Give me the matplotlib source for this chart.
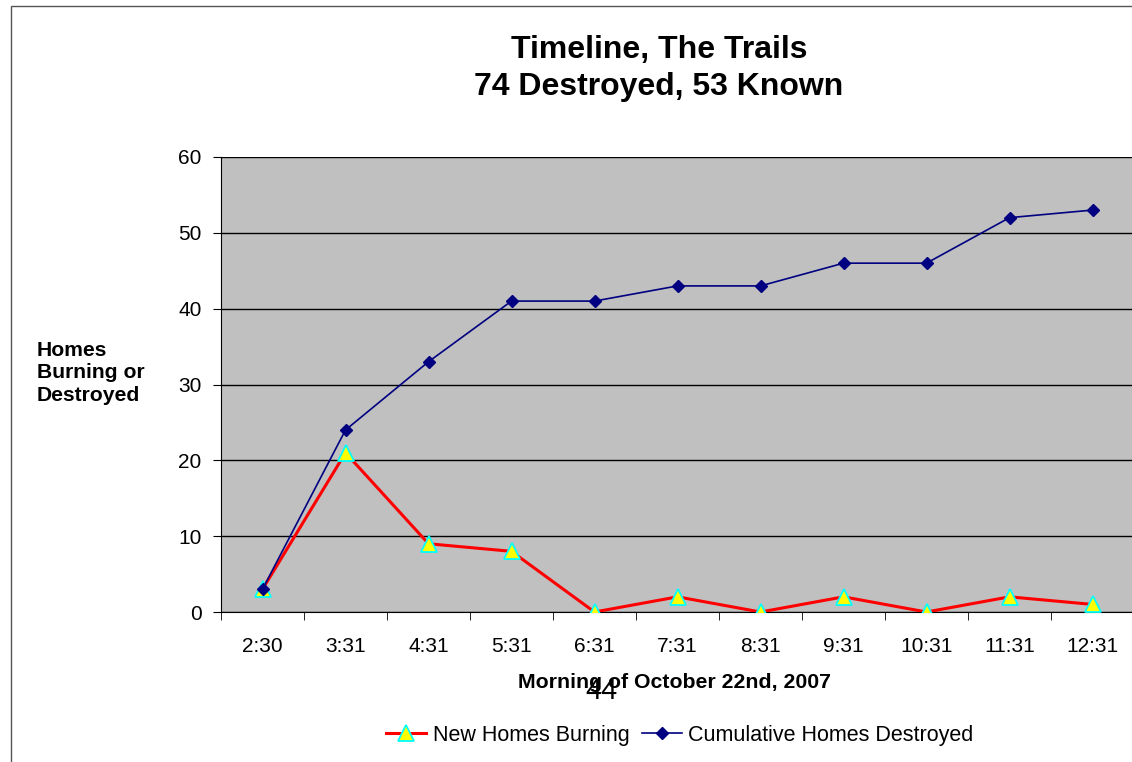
import matplotlib
matplotlib.use("Agg")
import matplotlib.pyplot as plt
import numpy as np
from matplotlib.patches import Rectangle

plt.rcParams['font.family'] = ['Liberation Sans', 'DejaVu Sans']

times = ["2:30", "3:31", "4:31", "5:31", "6:31", "7:31", "8:31", "9:31", "10:31", "11:31", "12:31"]
new_burning = [3, 21, 9, 8, 0, 2, 0, 2, 0, 2, 1]
cumulative = [3, 24, 33, 41, 41, 43, 43, 46, 46, 52, 53]

W, H = 1132, 762
fig = plt.figure(figsize=(W / 100, H / 100), dpi=100)

# outer chart border (right/bottom run off the picture)
fig.patches.append(Rectangle((11 / W, -0.1), 1.2, 1.1 - 6 / H,
                             transform=fig.transFigure, fill=False,
                             edgecolor="#555555", lw=1))

ax = fig.add_axes([221 / W, 1 - 612 / H, (1134 - 221) / W, (612 - 157) / H])
ax.set_facecolor("#c0c0c0")

x = np.arange(len(times))
ax.plot(x, new_burning, color="red", lw=2.2, marker="^", markersize=11,
        markerfacecolor="yellow", markeredgecolor="cyan", markeredgewidth=1.3,
        label="New Homes Burning", zorder=3)
ax.plot(x, cumulative, color="#000080", lw=1.2, marker="D", markersize=6,
        markerfacecolor="#000080", markeredgecolor="#000080",
        label="Cumulative Homes Destroyed", zorder=4)

ax.set_xlim(-0.5, len(times) - 0.5)
ax.set_ylim(0, 60)
ax.set_yticks(range(0, 61, 10))
ax.set_xticks(x)
ax.set_xticklabels(times)
ax.set_xticks(np.arange(-0.5, len(times)), minor=True)
ax.tick_params(axis="x", which="major", length=0, pad=18, labelsize=15)
ax.tick_params(axis="x", which="minor", length=6, color="black", direction="out")
ax.tick_params(axis="y", length=6, direction="out", labelsize=15, pad=8)
ax.yaxis.grid(True, color="black", lw=1)
ax.set_axisbelow(True)
for s in ["top", "right"]:
    ax.spines[s].set_visible(False)
ax.spines["left"].set_color("black")
ax.spines["bottom"].set_color("black")

fig.text(659 / W, 1 - 68.5 / H, "Timeline, The Trails\n74 Destroyed, 53 Known",
         ha="center", va="center", fontsize=23, fontweight="bold", linespacing=1.3)
fig.text(37 / W, 1 - 373 / H, "Homes\nBurning or\nDestroyed", ha="left", va="center",
         fontsize=15.2, fontweight="bold", linespacing=1.25)
fig.text(674 / W, 1 - 683 / H, "Morning of October 22nd, 2007", ha="center", va="center",
         fontsize=15.3, fontweight="bold")
fig.text(601 / W, 1 - 691 / H, "44", ha="center", va="center", fontsize=21)

fig.legend(loc="center", bbox_to_anchor=(680 / W, 1 - 735 / H), ncol=2, frameon=False,
           fontsize=15.5, handlelength=1.85, handletextpad=0.3, columnspacing=0.6)

fig.savefig("out.png", dpi=100)
